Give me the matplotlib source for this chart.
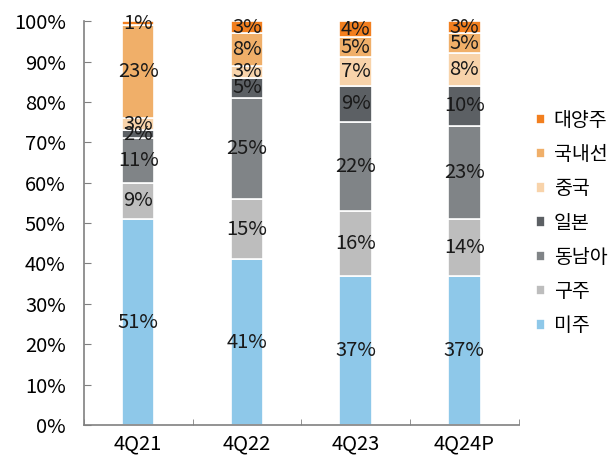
import matplotlib
matplotlib.use("Agg")
import matplotlib.pyplot as plt
import numpy as np

plt.rcParams['font.family'] = ['Noto Sans CJK KR', 'DejaVu Sans']

categories = ['4Q21', '4Q22', '4Q23', '4Q24P']
series_names = ['미주', '구주', '동남아', '일본', '중국', '국내선', '대양주']
americas = [51, 41, 37, 37]
europe = [9, 15, 16, 14]
sea = [11, 25, 22, 23]
japan = [2, 5, 9, 10]
china = [3, 3, 7, 8]
domestic = [23, 8, 5, 5]
oceania = [1, 3, 4, 3]
series_values = [americas, europe, sea, japan, china, domestic, oceania]
colors = ['#8EC8E9', '#BDBDBD', '#808487', '#5C6064', '#F8D3AA', '#F0AF69', '#F27F1F']
yticks = [0, 10, 20, 30, 40, 50, 60, 70, 80, 90, 100]

fig = plt.figure(figsize=(6.16, 4.59), dpi=100)
ax = fig.add_axes([0.136, 0.074, 0.706, 0.880])

x = np.arange(len(categories))
bottom = np.zeros(len(categories))
handles = []
for name, vals, c in zip(series_names, series_values, colors):
    vals = np.array(vals, dtype=float)
    b = ax.bar(x, vals, width=0.3, bottom=bottom, color=c, edgecolor='white',
               linewidth=1.2, label=name)
    handles.append(b)
    for xi, v, bt in zip(x, vals, bottom):
        ax.text(xi, bt + v / 2, f'{int(v)}%', ha='center', va='center',
                fontsize=14.5, color='#1a1a1a')
    bottom += vals

ax.set_xlim(-0.5, len(categories) - 0.5)
ax.set_ylim(0, 100)
ax.set_yticks(yticks)
ax.set_yticklabels([f'{t}%' for t in yticks], fontsize=14.5)
ax.set_xticks(x)
ax.set_xticklabels(categories, fontsize=14.5)
ax.set_xticks(np.arange(-0.5, len(categories)), minor=True)
ax.tick_params(axis='x', which='major', length=0, pad=6)
ax.tick_params(axis='x', which='minor', length=4, color='#808080', direction='in')
ax.tick_params(axis='y', length=5, color='#808080', direction='in', pad=13)
for s in ['top', 'right']:
    ax.spines[s].set_visible(False)
for s in ['left', 'bottom']:
    ax.spines[s].set_color('#808080')
    ax.spines[s].set_linewidth(1.2)

leg = ax.legend(handles[::-1], series_names[::-1], loc='center left',
                bbox_to_anchor=(1.0, 0.5), frameon=False, fontsize=14,
                handlelength=0.45, handleheight=0.45, labelspacing=0.68,
                handletextpad=0.45)

fig.savefig('out.png', dpi=100)
